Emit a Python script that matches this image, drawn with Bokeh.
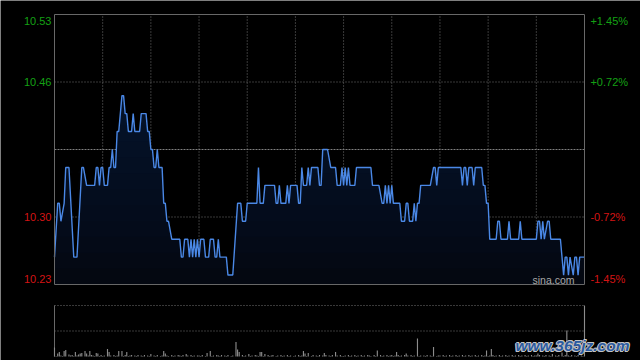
import numpy as np
from bokeh.plotting import figure
from bokeh.models import Range1d, Label
from bokeh.embed import file_html
from bokeh.resources import INLINE

# ---------------- data ----------------
prev_close = 10.38
pct_ticks = [1.45, 0.725, 0.0, -0.725, -1.45]
left_labels = ["10.53", "10.46", "", "10.30", "10.23"]
right_labels = ["+1.45%", "+0.72%", "", "-0.72%", "-1.45%"]
session_minutes = 330
grid_minutes = [30, 60, 90, 120, 150, 180, 210, 240, 270, 300]

minutes = [0, 2, 3, 4, 6, 7, 9, 12, 14, 17, 18, 20, 25, 26, 27, 28, 29, 30, 31, 33,
           34, 35, 36, 37, 38, 39, 40, 42, 43, 44, 45, 46, 48, 49, 50, 53, 54, 57, 58, 59,
           60, 61, 62, 63, 64, 65, 67, 68, 69, 70, 71, 73, 78, 79, 80, 81, 83, 84, 85, 86,
           87, 88, 89, 90, 91, 93, 94, 96, 97, 99, 100, 101, 102, 103, 107, 108, 111, 114, 116, 117,
           119, 120, 126, 127, 128, 130, 131, 137, 138, 139, 140, 141, 144, 145, 146, 147, 151, 152, 153, 154,
           155, 157, 158, 159, 160, 164, 165, 166, 167, 170, 172, 175, 176, 178, 179, 180, 181, 182, 183, 184,
           187, 188, 197, 198, 202, 204, 205, 206, 207, 208, 209, 210, 211, 215, 216, 218, 219, 220, 221, 223,
           224, 225, 226, 227, 228, 234, 236, 237, 238, 239, 253, 254, 255, 256, 257, 258, 260, 261, 262, 266,
           267, 268, 269, 270, 271, 275, 276, 277, 278, 282, 283, 284, 289, 290, 291, 300, 301, 302, 303, 304,
           305, 307, 308, 309, 315, 316, 317, 318, 319, 320, 321, 323, 324, 325, 326, 327, 330]
prices = [10.26, 10.32, 10.32, 10.30, 10.32, 10.36, 10.36, 10.26, 10.26, 10.36, 10.36, 10.34, 10.34, 10.36, 10.36, 10.34, 10.36, 10.36, 10.34, 10.34,
          10.36, 10.36, 10.38, 10.36, 10.36, 10.40, 10.40, 10.44, 10.44, 10.42, 10.42, 10.40, 10.40, 10.42, 10.40, 10.40, 10.42, 10.42, 10.40, 10.40,
          10.38, 10.38, 10.36, 10.36, 10.38, 10.36, 10.36, 10.32, 10.32, 10.30, 10.30, 10.28, 10.28, 10.26, 10.26, 10.28, 10.28, 10.26, 10.28, 10.26,
          10.28, 10.26, 10.28, 10.26, 10.28, 10.28, 10.26, 10.26, 10.28, 10.28, 10.26, 10.26, 10.28, 10.26, 10.26, 10.24, 10.24, 10.32, 10.32, 10.30,
          10.30, 10.32, 10.32, 10.36, 10.32, 10.32, 10.34, 10.34, 10.32, 10.32, 10.34, 10.32, 10.32, 10.34, 10.32, 10.34, 10.34, 10.32, 10.32, 10.36,
          10.34, 10.34, 10.36, 10.34, 10.36, 10.36, 10.34, 10.34, 10.38, 10.38, 10.36, 10.36, 10.34, 10.34, 10.36, 10.34, 10.36, 10.34, 10.36, 10.34,
          10.34, 10.36, 10.36, 10.34, 10.34, 10.32, 10.32, 10.34, 10.32, 10.34, 10.32, 10.34, 10.32, 10.32, 10.30, 10.30, 10.32, 10.32, 10.30, 10.30,
          10.32, 10.30, 10.32, 10.32, 10.34, 10.34, 10.36, 10.36, 10.34, 10.36, 10.36, 10.34, 10.36, 10.36, 10.34, 10.36, 10.36, 10.34, 10.36, 10.36,
          10.34, 10.34, 10.32, 10.32, 10.28, 10.28, 10.30, 10.30, 10.28, 10.28, 10.30, 10.28, 10.28, 10.30, 10.28, 10.28, 10.30, 10.30, 10.28, 10.30,
          10.28, 10.30, 10.30, 10.28, 10.28, 10.26, 10.24, 10.26, 10.26, 10.24, 10.26, 10.24, 10.26, 10.26, 10.24, 10.26, 10.26]

# notable volume bars (minute, volume)
vol_minutes = [0, 2, 3, 6, 7, 9, 13, 15, 16, 17, 19, 20, 22, 26, 27, 33, 34, 40, 42, 45,
               60, 68, 69, 82, 95, 97, 113, 114, 115, 121, 128, 129, 131, 155, 156, 158, 168, 175, 201, 213,
               219, 226, 236, 269, 272, 301, 310, 316, 319, 330]
vol_values = [180, 60, 90, 110, 130, 40, 90, 40, 60, 70, 110, 60, 110, 70, 60, 150, 90, 110, 110, 90,
              50, 110, 60, 50, 70, 110, 290, 140, 90, 50, 90, 90, 50, 110, 60, 70, 70, 90, 120, 90,
              60, 360, 190, 120, 150, 60, 50, 80, 520, 1020]
# small per-minute volumes (tens of lots), one digit per minute
vol_small_codes = ("213021320123102312031203212013"
                   "120312031230213012302130213021"
                   "302130120321031203213012031202"
                   "213012031203213021301203120312"
                   "031203213012031230120312031201"
                   "203120312013021302130213012031"
                   "120312031203120321031203120312"
                   "312031203120312031202130213012"
                   "203120312031203120312031203120"
                   "120312031203120312031203120312"
                   "213021302130213021302130213021"
                   "2")

# ---------------- derived ----------------
tick_values = [prev_close * (1 + t / 100.0) for t in pct_ticks]
y_hi, y_lo = tick_values[0], tick_values[-1]

vol_all = {i: int(c) * 10 for i, c in enumerate(vol_small_codes)}
for m, v in zip(vol_minutes, vol_values):
    vol_all[m] = v
vx = [m for m in sorted(vol_all) if vol_all[m] > 0]
vy = [vol_all[m] for m in vx]
vmax = max(vol_values)

# ---------------- layout (pixel geometry of the 640x360 canvas) ----------------
W, H = 640, 360
L_PX, R_PX = 54, 584          # plot frame left/right
T_PX, B_PX = 14, 284          # price frame top/bottom
VT_PX, VB_PX = 305, 356       # volume panel top/bottom
kx = session_minutes / (R_PX - L_PX)
ky = (y_hi - y_lo) / (B_PX - T_PX)
kv = vmax / (VB_PX - VT_PX)
x_range = Range1d(-L_PX * kx, session_minutes + (W - R_PX) * kx)
y_range = Range1d(y_lo - (H - B_PX) * ky, y_hi + T_PX * ky)
v_range = Range1d(-(H - VB_PX) * kv, vmax + VT_PX * kv)

GREEN = "#14a014"
RED = "#d41414"
GRID = "#727272"
FRAME = "#686868"
FONT = "Liberation Sans"

p = figure(width=W, height=H, x_range=x_range, y_range=y_range,
           x_axis_location=None, y_axis_location=None, toolbar_location=None, output_backend="svg",
           min_border=0, background_fill_color="black", border_fill_color="black", outline_line_color=None)
p.grid.visible = False
p.extra_y_ranges = {"vol": v_range}

# price grid
p.segment(x0=grid_minutes, y0=[y_lo] * len(grid_minutes), x1=grid_minutes, y1=[y_hi] * len(grid_minutes),
          line_color=GRID, line_dash="1 2", line_width=1)
p.segment(x0=[0, 0], y0=[tick_values[1], tick_values[3]], x1=[session_minutes] * 2,
          y1=[tick_values[1], tick_values[3]], line_color=GRID, line_dash="1 2", line_width=1)
p.segment(x0=[0], y0=[tick_values[2]], x1=[session_minutes], y1=[tick_values[2]],
          line_color="#808080", line_dash="2 1", line_width=1)

# price area + line
mx = np.array(minutes, dtype=float)
py = np.array(prices)
p.varea(x=mx, y1=y_lo, y2=py, fill_color="#04070e")
for lvl in np.linspace(y_lo, 10.46, 14):
    p.varea(x=mx, y1=lvl, y2=np.maximum(py, lvl), fill_color="#1f3c70", fill_alpha=0.04)
p.line(mx, py, line_color="#4a88e6", line_width=1.4)

# price frame
p.segment(x0=[0, 0, 0, session_minutes], y0=[y_hi, y_lo, y_lo, y_lo],
          x1=[session_minutes, session_minutes, 0, session_minutes], y1=[y_hi, y_lo, y_hi, y_hi],
          line_color=FRAME, line_width=1)

# axis labels (edge labels are pulled inside the frame, as in the original)
def label_y(val):
    if val == y_hi:
        return val - 6.5 * ky
    if val == y_lo:
        return val + 6.0 * ky
    return val

for val, txt, pct in zip(tick_values, left_labels, pct_ticks):
    if not txt:
        continue
    col = GREEN if pct > 0 else RED
    p.add_layout(Label(x=-1.9, y=label_y(val), text=txt, text_align="right", text_baseline="middle",
                       text_color=col, text_font=FONT, text_font_size="11px"))
for val, txt, pct in zip(tick_values, right_labels, pct_ticks):
    if not txt:
        continue
    col = GREEN if pct > 0 else RED
    p.add_layout(Label(x=session_minutes + 3.7, y=label_y(val), text=txt, text_align="left",
                       text_baseline="middle", text_color=col, text_font=FONT, text_font_size="11px"))

p.add_layout(Label(x=297.6, y=y_lo + 5.0 * ky, text="sina.com", text_align="left", text_baseline="middle",
                   text_color="#a8a8a8", text_font=FONT, text_font_size="10.5px"))

# ---------------- volume panel ----------------
p.segment(x0=[0, 0], y0=[vmax, vmax / 2], x1=[session_minutes] * 2, y1=[vmax, vmax / 2],
          line_color=GRID, line_dash="1 2", y_range_name="vol")
p.segment(x0=[0], y0=[0], x1=[0], y1=[vmax], line_color=FRAME, y_range_name="vol")
p.vbar(x=vx, top=vy, bottom=0, width=0.7, fill_color="#8c8c8c", line_color=None, y_range_name="vol")

# watermark
wm_x = 287.0
wm_y = 11 * kv
for dx, dy in [(-1, 0), (1, 0), (0, -1), (0, 1), (-1, -1), (1, 1)]:
    p.add_layout(Label(x=wm_x, y=wm_y, x_offset=dx, y_offset=dy, text="www.365jz.com",
                       y_range_name="vol", text_align="left", text_baseline="middle",
                       text_color="#c4c4c4", text_font=FONT, text_font_size="15.5px",
                       text_font_style="bold italic"))
p.add_layout(Label(x=wm_x, y=wm_y, text="www.365jz.com", y_range_name="vol", text_align="left",
                   text_baseline="middle", text_color="#2b5aa0", text_font=FONT,
                   text_font_size="15.5px", text_font_style="bold italic"))

open("out.html", "w").write(file_html(p, INLINE))
